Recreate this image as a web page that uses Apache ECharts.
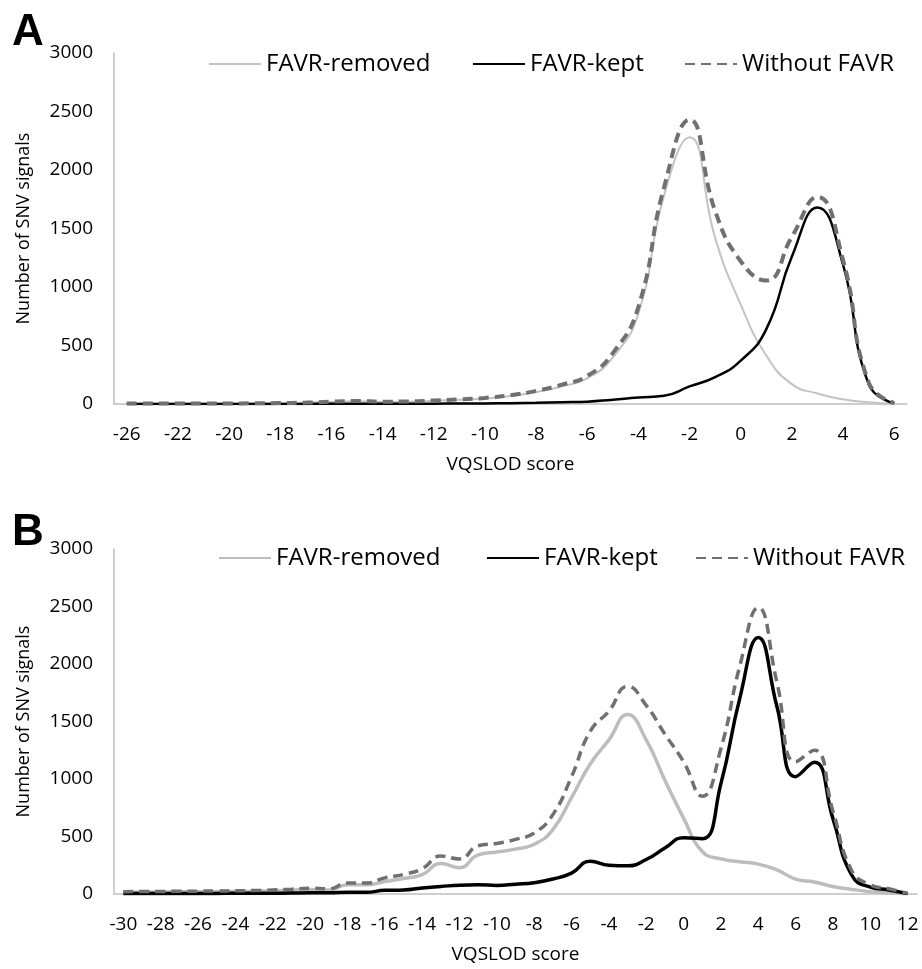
<!DOCTYPE html>
<html>
<head>
<meta charset="utf-8">
<script src="https://cdn.jsdelivr.net/npm/echarts@6/dist/echarts.min.js"></script>
<style>
html,body{margin:0;padding:0;background:#fff;}
#a{position:absolute;left:0;top:0;width:922px;height:490px;}
#b{position:absolute;left:0;top:490px;width:922px;height:479px;}
</style>
</head>
<body>
<div id="a"></div>
<div id="b"></div>
<script>
// ---- Panel A data ----
var catsA = [-26,-24,-22,-21,-20,-19,-18,-17,-16,-15,-14,-13,-12,-11,-10,-9,-8,-7,-6,-5,-4,-3,-2,-1,0,1,2,3,4,5,6];
var removedA = [5,5,5,5,5,6,7,11,18,23,18,20,27,36,47,68,102,150,220,398,775,1780,2280,1420,850,415,170,90,40,15,3];
var keptA = [0,0,0,0,0,0,1,1,2,2,2,2,3,4,5,7,10,15,20,37,55,70,150,230,370,640,1260,1680,1190,170,5];
var withoutA = [5,5,5,5,5,6,8,12,20,25,20,22,30,40,52,75,112,165,240,435,830,1850,2430,1650,1220,1055,1430,1770,1230,185,8];

// ---- Panel B data ----
var catsB = [-30,-29,-28,-27,-26,-25,-24,-23,-22,-21,-20,-19,-18,-17,-16,-15,-14,-13,-12,-11,-10,-9,-8,-7,-6,-5,-4,-3,-2,-1,0,1,2,3,4,5,6,7,8,9,10,11,12];
var removedB = [15,17,17,19,20,21,22,24,28,34,40,35,80,80,108,135,168,265,228,340,365,390,432,560,838,1130,1340,1560,1340,990,660,370,305,280,260,210,130,105,65,40,20,10,2];
var keptB = [5,5,5,5,5,5,6,6,7,8,10,10,15,15,32,35,52,65,77,80,75,85,98,130,182,285,250,245,300,400,490,480,960,1695,2230,1630,1020,1145,655,165,60,35,3];
var withoutB = [20,22,22,24,25,26,28,30,35,42,50,45,95,95,140,170,220,330,305,420,440,475,530,690,1020,1415,1590,1805,1640,1390,1150,850,1265,1975,2490,1840,1150,1250,720,205,80,45,5];

var yTicks = [0, 3000, 500];
var seriesNames = ['FAVR-removed', 'FAVR-kept', 'Without FAVR'];

var FONT = '"Open Sans", "DejaVu Sans", sans-serif';

function makeOption(cfg) {
  var legends = seriesNames.map(function (n, i) {
    return {
      data: [n], left: cfg.legendLeft[i], top: cfg.legendTop,
      itemWidth: 52, itemHeight: 14, itemGap: 0,
      selectedMode: false,
      itemStyle: { opacity: 0 },
      textStyle: { fontSize: 24, color: '#000', fontFamily: FONT }
    };
  });
  return {
    animation: false,
    backgroundColor: '#fff',
    graphic: [{
      type: 'text', left: 12, top: cfg.letterTop,
      style: { text: cfg.letter, font: 'bold 44px "Liberation Sans", Arial, sans-serif', fill: '#000' }
    }],
    legend: legends,
    grid: { left: 114, right: cfg.right, top: cfg.top, height: cfg.height },
    xAxis: {
      type: 'category', data: cfg.cats.map(String), boundaryGap: true,
      axisLine: { lineStyle: { color: '#bfbfbf', width: 1.5 } },
      axisTick: { show: false },
      axisLabel: { interval: 1, margin: 21, fontSize: 19, color: '#000', fontFamily: FONT },
      name: 'VQSLOD score', nameLocation: 'middle', nameGap: 51,
      nameTextStyle: { fontSize: 19, color: '#000', fontFamily: FONT }
    },
    yAxis: {
      type: 'value', min: yTicks[0], max: yTicks[1], interval: yTicks[2],
      splitLine: { show: false },
      axisLine: { show: true, lineStyle: { color: '#bfbfbf', width: 1.5 } },
      axisTick: { show: false },
      axisLabel: { margin: 21, fontSize: 19, color: '#000', fontFamily: FONT,
        formatter: function (v) { return String(v); } },
      name: 'Number of SNV signals', nameLocation: 'middle', nameGap: 81,
      nameTextStyle: { fontSize: 18, color: '#000', fontFamily: FONT }
    },
    series: [
      { name: seriesNames[0], type: 'line', data: cfg.removed, smooth: 0.5, symbol: 'none',
        lineStyle: { color: cfg.grayColor, width: cfg.grayW }, itemStyle: { color: cfg.grayColor } },
      { name: seriesNames[1], type: 'line', data: cfg.kept, smooth: 0.5, symbol: 'none',
        lineStyle: { color: '#000', width: cfg.blackW }, itemStyle: { color: '#000' } },
      { name: seriesNames[2], type: 'line', data: cfg.without, smooth: 0.5, symbol: 'none',
        lineStyle: { color: '#707070', width: cfg.dashW, type: [10, 6] }, itemStyle: { color: '#707070' } }
    ]
  };
}

var chartA = echarts.init(document.getElementById('a'));
chartA.setOption(makeOption({
  letter: 'A', letterTop: 11, cats: catsA, removed: removedA, kept: keptA, without: withoutA,
  right: 15, top: 53, height: 351, legendLeft: [203, 467, 679], legendTop: 47,
  grayColor: '#c3c3c3', grayW: 2, blackW: 2.5, dashW: 4
}));

var chartB = echarts.init(document.getElementById('b'));
chartB.setOption(makeOption({
  letter: 'B', letterTop: 21, cats: catsB, removed: removedB, kept: keptB, without: withoutB,
  right: 5, top: 59, height: 347, legendLeft: [213, 481, 690], legendTop: 51,
  grayColor: '#bdbdbd', grayW: 3.5, blackW: 3.5, dashW: 3.5
}));
</script>
</body>
</html>
